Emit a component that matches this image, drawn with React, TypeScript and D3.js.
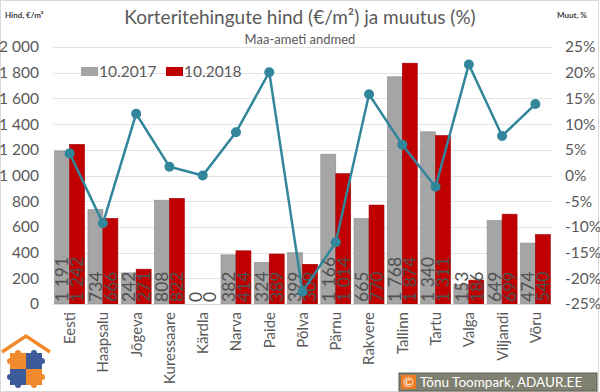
import { useEffect, useRef } from "react";
import * as d3 from "d3";

const cities = ["Eesti", "Haapsalu", "Jõgeva", "Kuressaare", "Kärdla", "Narva", "Paide", "Põlva", "Pärnu", "Rakvere", "Tallinn", "Tartu", "Valga", "Viljandi", "Võru"];
const price2017 = [1191, 734, 242, 808, 0, 382, 324, 399, 1166, 665, 1768, 1340, 153, 649, 474];
const price2018 = [1242, 666, 271, 822, 0, 414, 389, 309, 1014, 770, 1874, 1311, 186, 699, 540];
const changePct = [4.3, -9.3, 12.0, 1.7, 0, 8.4, 20.1, -22.6, -13.0, 15.8, 6.0, -2.2, 21.6, 7.7, 13.9];
const leftTicks = [0, 200, 400, 600, 800, 1000, 1200, 1400, 1600, 1800, 2000];
const rightTicks = [-25, -20, -15, -10, -5, 0, 5, 10, 15, 20, 25];
const seriesNames = ["10.2017", "10.2018"];

export default function App() {
  const svgRef = useRef(null);

  useEffect(() => {
    document.body.style.margin = "0";
    const width = 600;
    const height = 392;
    const margin = { top: 47, right: 48, bottom: 88, left: 53 };
    const font = "Lato, 'Open Sans', sans-serif";
    const txt = "#595959";

    d3.select(svgRef.current).selectAll("*").remove();
    const svg = d3
      .select(svgRef.current)
      .attr("width", width)
      .attr("height", height)
      .style("display", "block")
      .style("font-family", font)
      .style("background", "#fff");

    svg.append("rect")
      .attr("x", 0.5).attr("y", 0.5)
      .attr("width", width - 2).attr("height", height - 1)
      .attr("fill", "#fff").attr("stroke", "#d9d9d9");

    const x = d3.scaleBand()
      .domain(cities)
      .range([margin.left, width - margin.right])
      .paddingInner(0.1)
      .paddingOuter(0.05);
    const x1 = d3.scaleBand().domain(["0", "1"]).range([0, x.bandwidth()]);
    const y = d3.scaleLinear().domain([0, 2000]).range([height - margin.bottom, margin.top]);
    const yR = d3.scaleLinear().domain([-25, 25]).range([height - margin.bottom, margin.top]);

    // gridlines
    svg.append("g")
      .selectAll("line")
      .data(leftTicks)
      .enter()
      .append("line")
      .attr("x1", margin.left)
      .attr("x2", width - margin.right)
      .attr("y1", d => Math.round(y(d)) + 0.5)
      .attr("y2", d => Math.round(y(d)) + 0.5)
      .attr("stroke", "#e3e3e3");

    // left axis labels
    const fmt = (v: number) => d3.format(",")(v).replace(/,/g, "\u00a0");
    svg.append("g")
      .selectAll("text")
      .data(leftTicks)
      .enter()
      .append("text")
      .attr("x", 39)
      .attr("y", d => y(d))
      .attr("dy", "0.35em")
      .attr("text-anchor", "end")
      .attr("fill", txt)
      .style("font-size", "15.5px")
      .text(d => fmt(d));

    svg.append("g")
      .selectAll("text")
      .data(rightTicks)
      .enter()
      .append("text")
      .attr("x", 565)
      .attr("y", d => yR(d))
      .attr("dy", "0.35em")
      .attr("fill", txt)
      .style("font-size", "15.5px")
      .text(d => d + "%");

    // bars
    const colors = ["#a5a5a5", "#c00000"];
    const strokes = ["#8c8c8c", "#a00000"];
    const series = [price2017, price2018];
    series.forEach((vals, si) => {
      svg.append("g")
        .selectAll("rect")
        .data(vals)
        .enter()
        .append("rect")
        .attr("x", (d, i) => x(cities[i]) + x1(String(si)))
        .attr("y", d => y(d))
        .attr("width", x1.bandwidth())
        .attr("height", d => y(0) - y(d))
        .attr("fill", colors[si])
        .attr("stroke", d => (d > 0 ? strokes[si] : "none"))
        .attr("stroke-width", 0.6);
    });

    // bar value labels
    series.forEach((vals, si) => {
      svg.append("g")
        .selectAll("text")
        .data(vals)
        .enter()
        .append("text")
        .attr("transform", (d, i) => {
          const cx = x(cities[i]) + x1(String(si)) + x1.bandwidth() / 2;
          return `translate(${cx},${y(0) - 2}) rotate(-90)`;
        })
        .attr("dy", "0.36em")
        .attr("fill", "#505050")
        .style("font-size", "17.5px")
        .text(d => fmt(d));
    });

    // baseline
    svg.append("line")
      .attr("x1", margin.left).attr("x2", width - margin.right)
      .attr("y1", y(0) + 0.5).attr("y2", y(0) + 0.5)
      .attr("stroke", "#d9d9d9");

    // line series
    const lineColor = "#31869b";
    const line = d3.line<number>()
      .x((d, i) => x(cities[i]) + x.bandwidth() / 2)
      .y(d => yR(d));
    svg.append("path")
      .datum(changePct)
      .attr("d", line)
      .attr("fill", "none")
      .attr("stroke", lineColor)
      .attr("stroke-width", 2.5);
    svg.append("g")
      .selectAll("circle")
      .data(changePct)
      .enter()
      .append("circle")
      .attr("cx", (d, i) => x(cities[i]) + x.bandwidth() / 2)
      .attr("cy", d => yR(d))
      .attr("r", 5)
      .attr("fill", lineColor);

    // category labels
    svg.append("g")
      .selectAll("text")
      .data(cities)
      .enter()
      .append("text")
      .attr("transform", d => `translate(${x(d) + x.bandwidth() / 2},${y(0) + 8}) rotate(-90)`)
      .attr("text-anchor", "end")
      .attr("dy", "0.36em")
      .attr("fill", txt)
      .style("font-size", "15px")
      .text(d => d);

    // titles
    svg.append("text")
      .attr("x", 300).attr("y", 24)
      .attr("text-anchor", "middle")
      .attr("fill", txt)
      .style("font-size", "19px")
      .text("Korteritehingute hind (€/m²) ja muutus (%)");
    svg.append("text")
      .attr("x", 300).attr("y", 44)
      .attr("text-anchor", "middle")
      .attr("fill", txt)
      .style("font-size", "13px")
      .text("Maa-ameti andmed");
    svg.append("text")
      .attr("x", 5).attr("y", 18)
      .attr("fill", "#404040")
      .style("font-size", "8px")
      .style("font-weight", "bold")
      .text("Hind, €/m²");
    svg.append("text")
      .attr("x", 557).attr("y", 18)
      .attr("fill", "#404040")
      .style("font-size", "8px")
      .style("font-weight", "bold")
      .text("Muut, %");

    // legend
    const legX = [81, 166];
    seriesNames.forEach((name, i) => {
      svg.append("rect")
        .attr("x", legX[i]).attr("y", 67)
        .attr("width", 17).attr("height", 9)
        .attr("fill", colors[i]);
      svg.append("text")
        .attr("x", legX[i] + 18).attr("y", 72)
        .attr("dy", "0.35em")
        .attr("fill", txt)
        .style("font-size", "15.5px")
        .text(name);
    });

    // logo
    const logo = svg.append("g").attr("transform", "translate(0,333)");
    logo.append("path")
      .attr("d", "M2,19 L26,3 L50,19")
      .attr("fill", "none")
      .attr("stroke", "#f08a2c")
      .attr("stroke-width", 3.5);
    const pc = [["#f08a2c", "#3d5a9a"], ["#3d5a9a", "#f08a2c"]];
    pc.forEach((row, r) => row.forEach((c, k) => {
      logo.append("rect")
        .attr("x", 10 + k * 16).attr("y", 20 + r * 16)
        .attr("width", 16).attr("height", 16)
        .attr("fill", c);
      logo.append("circle")
        .attr("cx", 10 + k * 32).attr("cy", 28 + r * 16)
        .attr("r", 3).attr("fill", c);
      logo.append("circle")
        .attr("cx", 18 + k * 16).attr("cy", 20 + r * 32)
        .attr("r", 3).attr("fill", c);
    }));

    // copyright
    const cp = svg.append("g").attr("transform", "translate(399,373)");
    cp.append("rect").attr("width", 198).attr("height", 18).attr("fill", "#808070").attr("stroke", "#5f5f55");
    cp.append("rect").attr("x", 2).attr("y", 2).attr("width", 15).attr("height", 14).attr("fill", "#f07b20");
    cp.append("text").attr("x", 9.5).attr("y", 9).attr("dy", "0.36em").attr("text-anchor", "middle")
      .attr("fill", "#fff").style("font-size", "13px").text("©");
    cp.append("text").attr("x", 21).attr("y", 9).attr("dy", "0.36em")
      .attr("fill", "#fff").style("font-size", "13.5px").text("Tõnu Toompark, ADAUR.EE");
  }, []);

  return <svg ref={svgRef}></svg>;
}
